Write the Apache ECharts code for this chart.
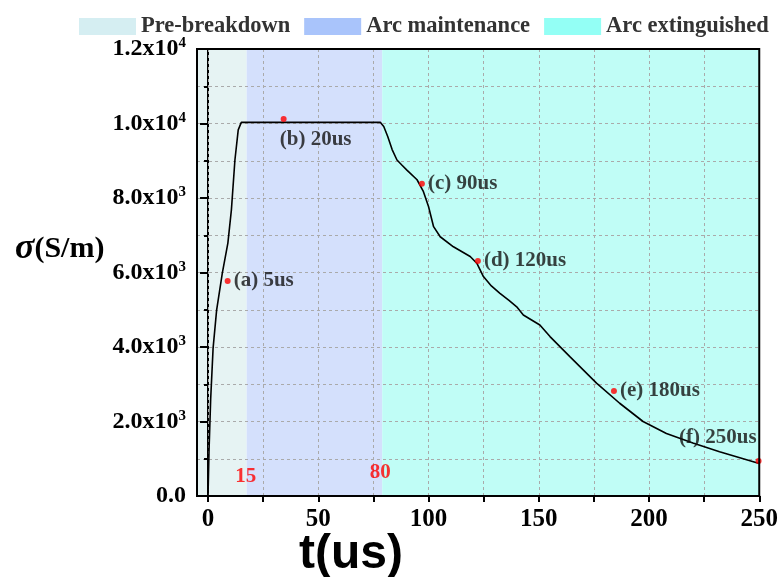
<!DOCTYPE html>
<html><head><meta charset="utf-8">
<script src="https://cdn.jsdelivr.net/npm/echarts@6/dist/echarts.min.js"></script>
<style>html,body{margin:0;padding:0;background:#fff}#c{width:781px;height:577px}</style>
</head><body><div id="c"></div>
<script>
// ---- data ----
const curveT = [0, 0.45, 1.2, 2.3, 3.9, 6.5, 9.0, 10.6, 12.2, 13.7, 15.1, 78.2, 79.7, 81.5, 83.5, 85.7, 88.0, 90.2, 94.8, 97.7, 100.0, 102.3, 105.3, 111.3, 118.9, 121.9, 124.9, 128.5, 132.4, 136.5, 140.0, 143.0, 150.5, 155.1, 164.1, 176.2, 186.7, 197.3, 207.9, 219.9, 232.0, 250.0];
const curveSigma = [0, 1210, 2600, 3970, 4990, 5990, 6790, 7680, 9020, 9830, 10030, 10030, 9920, 9650, 9300, 9020, 8880, 8750, 8490, 8170, 7770, 7230, 6960, 6690, 6430, 6250, 5890, 5640, 5440, 5250, 5080, 4860, 4590, 4280, 3740, 3030, 2490, 2000, 1680, 1420, 1190, 870];
const pointT = [8.9, 34.3, 97.0, 122.4, 184.1, 249.7];
const pointSigma = [5770, 10120, 8380, 6310, 2820, 940];
const pointLabels = ['(a) 5us', '(b) 20us', '(c) 90us', '(d) 120us', '(e) 180us', '(f) 250us'];
const phaseNames = ['Pre-breakdown', 'Arc maintenance', 'Arc extinguished'];
const phaseStart = [-5, 17.5, 79];
const phaseEnd = [17.5, 79, 250];
const boundaryLabels = ['15', '80'];
const boundaryT = [17.1, 78.1];
const boundarySigma = [510, 620];
const xTickValues = [0, 25, 50, 75, 100, 125, 150, 175, 200, 225, 250];
const xLabelValues = [0, 50, 100, 150, 200, 250];

// ---- styles ----
const areaColors = ['#e6f3f3', '#d4e0fc', '#c0fdf6'];
const swatchColors = ['#d5eef2', '#a9c4fb', '#93fff5'];
const serif = 'Liberation Serif, Times New Roman, serif';

const labelPos = [
  {position: 'right', distance: 3},
  {position: 'bottom', offset: [32, 2]},
  {position: 'right', distance: 3},
  {position: 'right', distance: 3},
  {position: 'right', distance: 3},
  {position: 'left', offset: [6, -23]}
];

const chart = echarts.init(document.getElementById('c'), null, {renderer: 'canvas'});

const phaseSeries = phaseNames.map((n, i) => ({
  name: n, type: 'line', data: [], z: 1,
  itemStyle: {color: swatchColors[i]},
  lineStyle: {color: swatchColors[i]},
  markArea: {
    silent: true,
    itemStyle: {color: areaColors[i]},
    data: [[{xAxis: phaseStart[i]}, {xAxis: phaseEnd[i]}]]
  }
}));

function yFmt(v) {
  if (v === 0) return '{b|0.0}';
  const e = Math.floor(Math.log10(v) + 1e-9);
  const m = (v / Math.pow(10, e)).toFixed(1);
  return '{b|' + m + 'x10}{s|' + e + '}';
}

const pointLabelStyle = {fontFamily: serif, fontWeight: 'bold', fontSize: 21, color: '#111'};

chart.setOption({
  animation: false,
  backgroundColor: '#fff',
  grid: {left: 197, right: 21, top: 49, bottom: 81, show: true, borderColor: '#000', borderWidth: 2, backgroundColor: 'transparent', z: 10},
  legend: {
    data: phaseNames, left: 79, top: 15, padding: 0, icon: 'rect', itemWidth: 57, itemHeight: 17, itemGap: 14,
    textStyle: {fontFamily: serif, fontWeight: 'bold', fontSize: 22.5, color: '#333'}
  },
  xAxis: {
    type: 'value', min: -5, max: 250, z: 3,
    axisLine: {show: true, lineStyle: {color: '#000', width: 2}},
    axisTick: {show: true, customValues: xTickValues, length: 6, lineStyle: {color: '#000', width: 2}},
    axisLabel: {customValues: xLabelValues, margin: 11, fontFamily: serif, fontWeight: 'bold', fontSize: 25, color: '#000'},
    splitLine: {show: false}
  },
  yAxis: {
    type: 'value', min: 0, max: 12000, interval: 2000, z: 3,
    axisLine: {show: true, lineStyle: {color: '#000', width: 2}},
    axisTick: {show: true, length: 8, lineStyle: {color: '#000', width: 2}},
    minorTick: {show: true, splitNumber: 2, length: 4, lineStyle: {color: '#000', width: 2}},
    splitLine: {show: true, lineStyle: {color: '#aaa', type: [3, 3], width: 1}},
    minorSplitLine: {show: true, lineStyle: {color: '#aaa', type: [3, 3], width: 1}},
    axisLabel: {
      margin: 11, formatter: yFmt,
      rich: {
        b: {fontFamily: serif, fontWeight: 'bold', fontSize: 24, color: '#000'},
        s: {fontFamily: serif, fontWeight: 'bold', fontSize: 15, color: '#000', verticalAlign: 'bottom', padding: [0, 0, 11, 0]}
      }
    }
  },
  series: [
    ...phaseSeries,
    {
      name: 'vgrid', type: 'line', data: [], z: 3,
      markLine: {
        silent: true, symbol: 'none', label: {show: false},
        lineStyle: {color: '#aaa', type: [3, 3], width: 1},
        data: xTickValues.map(v => ({xAxis: v}))
      }
    },
    {
      name: 'curve', type: 'line', z: 5, showSymbol: false, symbol: 'none',
      lineStyle: {color: '#000', width: 1.6},
      data: curveT.map((t, i) => [t, curveSigma[i]])
    },
    {
      name: 'points', type: 'scatter', z: 6, symbolSize: 6,
      itemStyle: {color: '#ff0000'},
      data: pointT.map((t, i) => ({
        value: [t, pointSigma[i]],
        label: Object.assign({show: true, formatter: pointLabels[i]}, pointLabelStyle, labelPos[i])
      })),
      label: pointLabelStyle
    },
    {
      name: 'bounds', type: 'scatter', z: 6, symbolSize: 0,
      data: boundaryT.map((t, i) => [t, boundarySigma[i]]),
      label: {show: true, position: 'inside', formatter: p => boundaryLabels[p.dataIndex],
        fontFamily: serif, fontWeight: 'bold', fontSize: 21, color: '#ff0000'}
    }
  ],
  graphic: [
    {type: 'text', left: 15, top: 231, style: {
      rich: {
        g: {fontFamily: serif, fontStyle: 'italic', fontWeight: 'bold', fontSize: 36, fill: '#000'},
        u: {fontFamily: serif, fontWeight: 'bold', fontSize: 30, fill: '#000'}
      },
      text: '{g|σ}{u|(S/m)}'
    }},
    {type: 'text', left: 299, top: 531, style: {
      text: 't(us)', fontFamily: 'Liberation Sans, Arial, sans-serif', fontWeight: 'bold', fontSize: 48, fill: '#000'
    }}
  ]
});
</script></body></html>
